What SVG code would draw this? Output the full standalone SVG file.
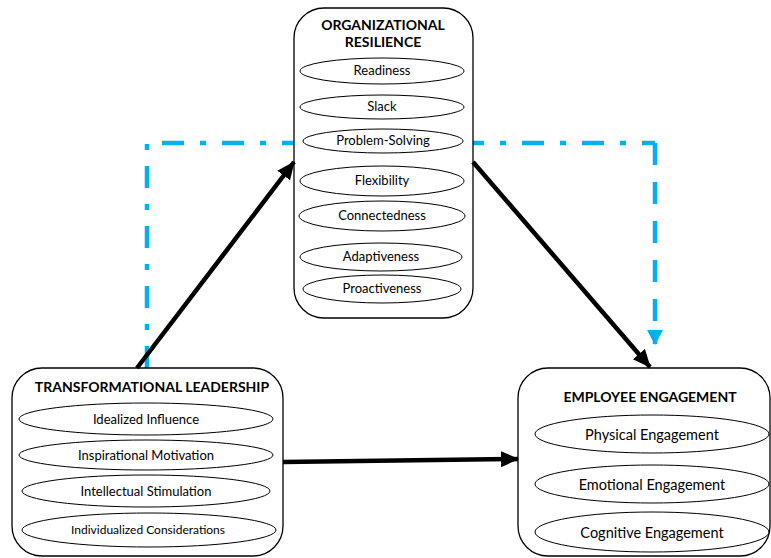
<svg xmlns="http://www.w3.org/2000/svg" width="771" height="558" viewBox="0 0 771 558">
<defs>
<style>
.box{fill:#fff;stroke:#000;stroke-width:1.3}
.el{fill:#fff;stroke:#000;stroke-width:1}
.t{font-family:Lato,"Liberation Sans",sans-serif;font-size:13px;fill:#000;text-anchor:middle}
.tb{font-family:Lato,"Liberation Sans",sans-serif;font-size:14px;font-weight:bold;fill:#000;text-anchor:middle}
.tl{font-family:Lato,"Liberation Sans",sans-serif;font-size:14.5px;fill:#000;text-anchor:middle}
.arr{stroke:#000;stroke-width:4.5;fill:none}
.blue{stroke:#00B0F0;stroke-width:4.5;fill:none}
</style>
<marker id="ah" markerUnits="userSpaceOnUse" markerWidth="20" markerHeight="18" refX="17" refY="8" orient="auto">
<path d="M0,0 L18,8 L0,16 Z" fill="#000"/>
</marker>
<marker id="bh" markerUnits="userSpaceOnUse" markerWidth="18" markerHeight="18" refX="14" refY="8" orient="auto">
<path d="M0,0 L15,8 L0,16 Z" fill="#00B0F0"/>
</marker>
</defs>
<g id="connectors-back">
<path class="blue" d="M147,368 L147,143 L655,143" stroke-dasharray="22,16,6,16"/>
<path class="blue" d="M655,143 L655,344" stroke-dasharray="22,17" marker-end="url(#bh)"/>
</g>
<g id="organizational-resilience">
<rect class="box" x="294" y="8" width="179" height="310" rx="30"/>
<text class="tb" x="383" y="30">ORGANIZATIONAL</text>
<text class="tb" x="383" y="47">RESILIENCE</text>
<ellipse class="el" cx="382" cy="71" rx="82" ry="13"/>
<text class="t" x="382" y="75">Readiness</text>
<ellipse class="el" cx="382" cy="107" rx="82" ry="12"/>
<text class="t" x="382" y="111">Slack</text>
<ellipse class="el" cx="383" cy="141" rx="80" ry="12"/>
<text class="t" x="383" y="145">Problem-Solving</text>
<ellipse class="el" cx="382" cy="181" rx="82" ry="15"/>
<text class="t" x="382" y="185">Flexibility</text>
<ellipse class="el" cx="382" cy="216" rx="83" ry="15"/>
<text class="t" x="382" y="220">Connectedness</text>
<ellipse class="el" cx="381" cy="257" rx="81" ry="14"/>
<text class="t" x="381" y="261">Adaptiveness</text>
<ellipse class="el" cx="382" cy="289" rx="79" ry="14"/>
<text class="t" x="382" y="293">Proactiveness</text>
</g>
<g id="transformational-leadership">
<rect class="box" x="12" y="368" width="271" height="188" rx="30"/>
<text class="tb" x="152" y="392">TRANSFORMATIONAL LEADERSHIP</text>
<ellipse class="el" cx="146" cy="419" rx="127" ry="16"/>
<text class="t" x="146" y="424">Idealized Influence</text>
<ellipse class="el" cx="146" cy="455" rx="127" ry="15"/>
<text class="t" x="146" y="460">Inspirational Motivation</text>
<ellipse class="el" cx="146" cy="491" rx="124" ry="16"/>
<text class="t" x="146" y="496">Intellectual Stimulation</text>
<ellipse class="el" cx="149" cy="530" rx="127" ry="17"/>
<text class="t" x="148" y="534" style="font-size:12px">Individualized Considerations</text>
</g>
<g id="employee-engagement">
<rect class="box" x="518" y="368" width="252" height="188" rx="30"/>
<text class="tb" x="650" y="402">EMPLOYEE ENGAGEMENT</text>
<ellipse class="el" cx="652" cy="434" rx="117" ry="19"/>
<text class="tl" x="652" y="440">Physical Engagement</text>
<ellipse class="el" cx="652" cy="484" rx="117" ry="19"/>
<text class="tl" x="652" y="490">Emotional Engagement</text>
<ellipse class="el" cx="652" cy="532" rx="117" ry="20"/>
<text class="tl" x="652" y="538">Cognitive Engagement</text>
</g>
<g id="connectors">
<line class="arr" x1="137" y1="368" x2="294" y2="162" marker-end="url(#ah)"/>
<line class="arr" x1="473" y1="162" x2="650" y2="367" marker-end="url(#ah)"/>
<line class="arr" x1="283" y1="462" x2="518" y2="459" marker-end="url(#ah)"/>
</g>
</svg>
